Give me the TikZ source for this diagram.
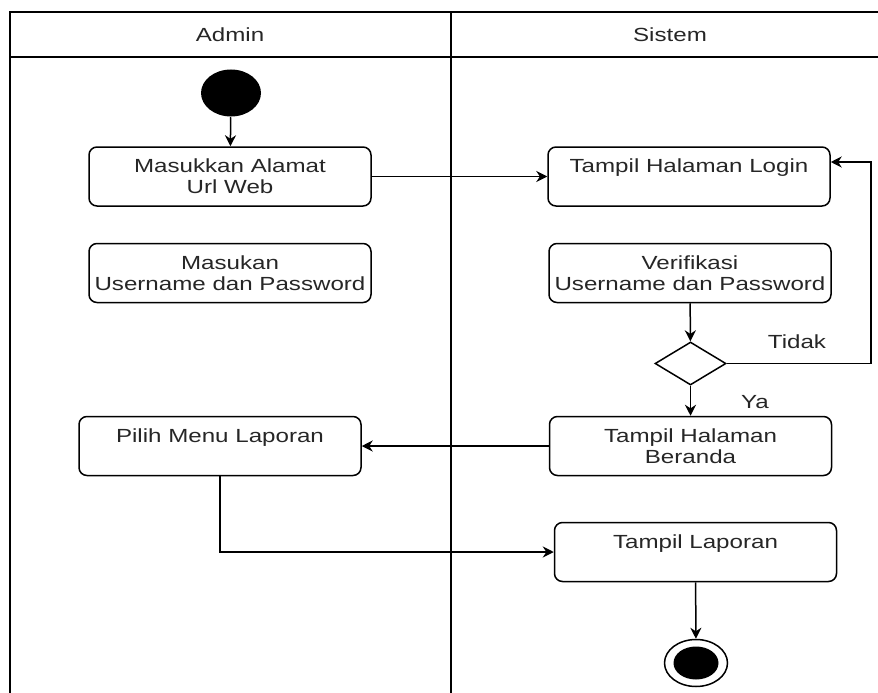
\documentclass[tikz,border=0pt]{standalone}
\usepackage{fontspec}
\setmainfont[FakeStretch=1.27]{Liberation Sans}
\usetikzlibrary{shapes.geometric,arrows.meta}
\begin{document}
\begin{tikzpicture}[x=1pt, y=-1pt, line width=1.5pt, >={Stealth[length=11pt,width=11pt]},
  font=\fontsize{19}{21}\selectfont, text=black!85,
  main/.style = {draw, rounded corners=8pt, minimum width=282pt, minimum height=59pt, align=center, inner sep=0pt},
  cond/.style = {draw, diamond, minimum width=71pt, minimum height=43pt, inner sep=0pt},
  lane/.style = {line width=1.7pt}]
  \useasboundingbox (0,0) rectangle (878,693);
  % swimlanes
  \draw[lane] (10,693) -- (10,12) -- (878,12);
  \draw[lane] (10,57) -- (878,57);
  \draw[lane] (451,12) -- (451,693);
  \node (a) at (230,35) {Admin};
  \node (s) at (670,35) {Sistem};

  \node[ellipse, fill=black, minimum width=60pt, minimum height=47pt, inner sep=0pt] (1) at (231,93) {};
  \node[main] (2) at (230,176.5) {Masukkan Alamat\\Url Web};
  \node[main] (3) at (230,273) {Masukan\\Username dan Password};
  \node[main] (4) at (689,176.5) {Tampil Halaman Login\\\mbox{}};
  \node[main] (5) at (690,273) {Verifikasi\\Username dan Password};
  \node[cond] (6) at (690.5,363.5) {};
  \node[main] (7) at (690.5,446) {Tampil Halaman\\Beranda};
  \node[main] (8) at (220,446) {Pilih Menu Laporan\\\mbox{}};
  \node[main] (9) at (695.5,552) {Tampil Laporan\\\mbox{}};
  \node[ellipse, draw, minimum width=63pt, minimum height=47pt, inner sep=0pt] (10) at (696,663) {};
  \node[ellipse, fill=black, minimum width=45pt, minimum height=33pt, inner sep=0pt] (11) at (10) {};
  \node (t) at (797,342) {Tidak};
  \node (y) at (755,402) {Ya};
  \coordinate (c) at (871,162);

  \draw[->] (1) -- (2);
  \draw[->] (2) -- (4);
  \draw[->] (5) -- (6);
  \draw[->] (6.east) -| (c) -- (c -| 4.east);
  \draw[->] (6) -- (7);
  \draw[->] (7) -- (8);
  \draw[->] (8.south) |- (9.west);
  \draw[->] (9) -- (10);
\end{tikzpicture}
\end{document}
